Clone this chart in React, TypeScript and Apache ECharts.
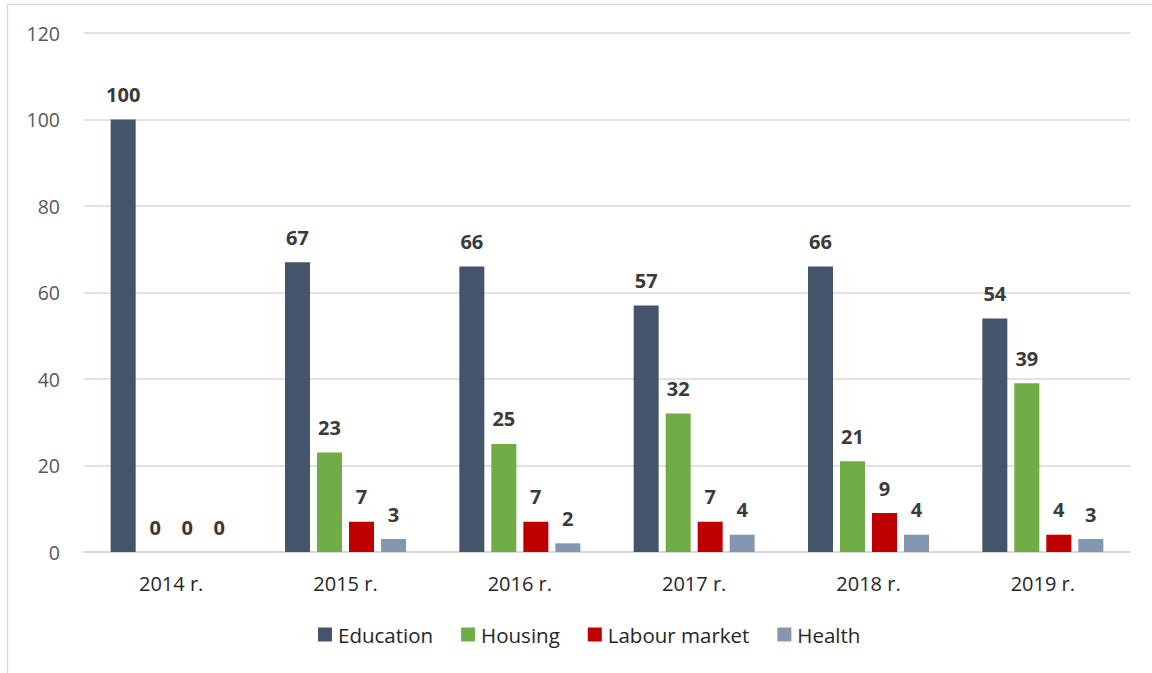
import React, { useEffect, useRef } from "react";
import * as echarts from "echarts";

const categories = ["2014 r.", "2015 r.", "2016 r.", "2017 r.", "2018 r.", "2019 r."];
const education = [100, 67, 66, 57, 66, 54];
const housing = [0, 23, 25, 32, 21, 39];
const labour = [0, 7, 7, 7, 9, 4];
const health = [0, 3, 2, 4, 4, 3];
const seriesNames = ["Education", "Housing", "Labour market", "Health"];
const colors = ["#44546A", "#70AD47", "#C00000", "#8497B0"];

const FONT = "'Open Sans', 'Noto Sans', sans-serif";

export default function App() {
  const ref = useRef<HTMLDivElement>(null);
  useEffect(() => {
    const chart = echarts.init(ref.current!, undefined, { renderer: "svg" });
    const data = [education, housing, labour, health];
    chart.setOption({
      animation: false,
      backgroundColor: "#ffffff",
      textStyle: { fontFamily: FONT },
      graphic: [
        {
          type: "rect",
          shape: { x: 7.5, y: 4.5, width: 1200, height: 700 },
          style: { fill: "none", stroke: "#d9d9d9", lineWidth: 1.5 },
          silent: true,
          z: -1,
        },
      ],
      grid: { left: 84, right: 22, top: 33, bottom: 121, containLabel: false },
      legend: {
        bottom: 23,
        left: 313,
        itemWidth: 14,
        itemHeight: 14,
        itemGap: 28,
        icon: "rect",
        textStyle: { fontSize: 20.5, color: "#262626", fontFamily: FONT, padding: [0, 0, 0, 1] },
        data: seriesNames,
      },
      xAxis: {
        type: "category",
        data: categories,
        axisLine: { lineStyle: { color: "#d9d9d9", width: 2 } },
        axisTick: { show: false },
        axisLabel: { fontSize: 20, color: "#262626", margin: 21, fontFamily: FONT },
      },
      yAxis: {
        type: "value",
        min: 0,
        max: 120,
        interval: 20,
        axisLine: { show: false },
        axisTick: { show: false },
        splitLine: { lineStyle: { color: "#d9d9d9", width: 1.5 } },
        axisLabel: { fontSize: 19.5, color: "#595959", margin: 24, fontFamily: FONT },
      },
      series: seriesNames.map((name, i) => ({
        name,
        type: "bar",
        data: data[i],
        barWidth: 25,
        barGap: "28%",
        itemStyle: { color: colors[i] },
        label: {
          show: true,
          position: "top",
          distance: 15,
          fontSize: 20,
          fontWeight: "bold",
          color: "#3a3a3a",
          fontFamily: FONT,
        },
      })),
    });
    return () => chart.dispose();
  }, []);
  return (
    <div
      ref={ref}
      style={{ position: "fixed", left: 0, top: 0, width: 1152, height: 673 }}
    />
  );
}
